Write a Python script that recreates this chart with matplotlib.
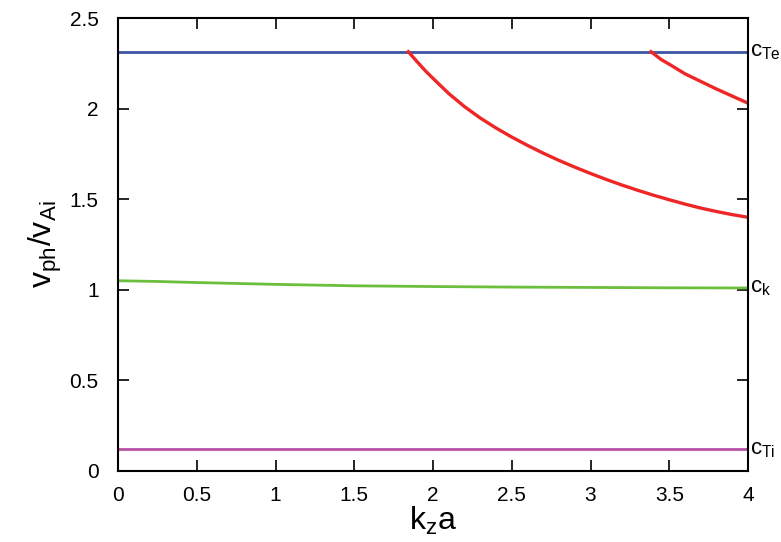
"""Phase speed vs k_z a: cutoff modes between the c_Ti, c_k and c_Te lines."""

import matplotlib

matplotlib.use("Agg")
import matplotlib.pyplot as plt  # noqa: E402

plt.rcParams["font.family"] = ["Liberation Sans", "DejaVu Sans"]
plt.rcParams["mathtext.fontset"] = "custom"
plt.rcParams["mathtext.rm"] = "Liberation Sans"
plt.rcParams["mathtext.it"] = "Liberation Sans"

# characteristic speeds (normalised to v_Ai)
c_te = 2.314
c_ti = 0.12

# kink-like speed curve, slowly approaching c_k
k_green = [0.0, 0.25, 0.5, 0.75, 1.0, 1.5, 2.0, 2.5, 3.0, 3.5, 4.0]
v_green = [1.05, 1.046, 1.04, 1.035, 1.03, 1.022, 1.018, 1.015, 1.013, 1.011, 1.01]

# first body mode, cut off at c_Te
k_red1 = [1.843, 1.9, 1.95, 2.0, 2.1, 2.2, 2.3, 2.4, 2.5, 2.6, 2.7, 2.8, 2.9, 3.0,
          3.1, 3.2, 3.3, 3.4, 3.5, 3.6, 3.7, 3.8, 3.9, 4.0]
v_red1 = [2.314, 2.258, 2.21, 2.167, 2.083, 2.011, 1.948, 1.893, 1.843, 1.797, 1.754,
          1.714, 1.677, 1.642, 1.609, 1.578, 1.549, 1.522, 1.497, 1.473, 1.451, 1.432,
          1.415, 1.400]

# second body mode
k_red2 = [3.384, 3.45, 3.5, 3.6, 3.7, 3.8, 3.9, 4.0]
v_red2 = [2.314, 2.27, 2.245, 2.192, 2.150, 2.108, 2.069, 2.030]

fig = plt.figure(figsize=(7.81, 5.42), dpi=100)
ax = fig.add_axes([118 / 781, 1 - 471 / 542, 630 / 781, 453 / 542])

ax.axhline(c_te, color="#3b55a3", lw=2)
ax.axhline(c_ti, color="#b850a6", lw=2)
ax.plot(k_green, v_green, color="#6bbf3d", lw=2)
ax.plot(k_red1, v_red1, color="#ee2626", lw=2.4, solid_joinstyle="round")
ax.plot(k_red2, v_red2, color="#ee2626", lw=2.4, solid_joinstyle="round")

ax.set_xlim(0, 4)
ax.set_ylim(0, 2.5)
ax.set_xticks([0, 0.5, 1, 1.5, 2, 2.5, 3, 3.5, 4])
ax.set_xticklabels(["0", "0.5", "1", "1.5", "2", "2.5", "3", "3.5", "4"])
ax.set_yticks([0, 0.5, 1, 1.5, 2, 2.5])
ax.set_yticklabels(["0", "0.5", "1", "1.5", "2", "2.5"])
ax.tick_params(direction="in", top=True, right=True, length=8, width=1.2,
               labelsize=15)
ax.tick_params(axis="x", pad=11)
ax.tick_params(axis="y", pad=14)
for sp in ax.spines.values():
    sp.set_linewidth(1.5)

ax.set_xlabel(r"$\mathrm{k_z a}$", fontsize=23, labelpad=0)
ax.set_ylabel(r"$\mathrm{v_{ph}/v_{Ai}}$", fontsize=23, labelpad=4)

for y, lab in [(c_te, r"$\mathrm{c_{Te}}$"), (1.01, r"$\mathrm{c_k}$"), (c_ti, r"$\mathrm{c_{Ti}}$")]:
    ax.text(1.003, y, lab, transform=ax.get_yaxis_transform(), fontsize=16,
            ha="left", va="center")

fig.savefig("out.png", dpi=100)
plt.close(fig)
